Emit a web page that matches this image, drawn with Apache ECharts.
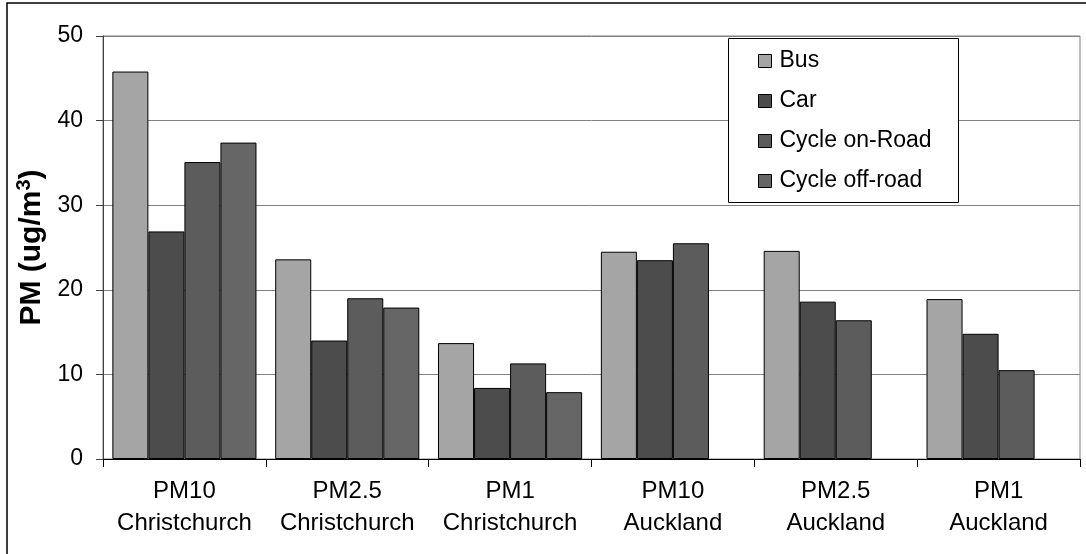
<!DOCTYPE html>
<html>
<head>
<meta charset="utf-8">
<script src="https://cdn.jsdelivr.net/npm/echarts@6/dist/echarts.min.js"></script>
<style>
html,body{margin:0;padding:0;background:#fff;}
#chart{width:1086px;height:554px;}
</style>
</head>
<body>
<div id="chart"></div>
<script>
var categories = ['PM10\nChristchurch','PM2.5\nChristchurch','PM1\nChristchurch','PM10\nAuckland','PM2.5\nAuckland','PM1\nAuckland'];
var bus = [45.8, 23.6, 13.7, 24.5, 24.6, 18.9];
var car = [26.9, 14.0, 8.4, 23.5, 18.6, 14.8];
var cycleOnRoad = [35.1, 19.0, 11.3, 25.5, 16.4, 10.5];
var cycleOffRoad = [37.4, 17.9, 7.9, null, null, null];
var yTicks = {min: 0, max: 50, interval: 10};

var FONT = '"Liberation Sans", Arial, sans-serif';
var chart = echarts.init(document.getElementById('chart'));

function bar(name, data, color) {
  return {
    name: name, type: 'bar', data: data,
    barGap: '0%', barCategoryGap: '11.5%',
    itemStyle: {color: color, borderColor: '#000', borderWidth: 1},
    emphasis: {disabled: true}
  };
}

chart.setOption({
  animation: false,
  textStyle: {fontFamily: FONT},
  grid: {left: 103, right: 6, top: 36, bottom: 95, show: true, borderColor: '#808080', borderWidth: 1},
  graphic: [
    {type: 'rect', z: -10, shape: {x: 7, y: 3, width: 1200, height: 700}, style: {fill: 'none', stroke: '#000', lineWidth: 1.5}},
    {type: 'rect', z: 5, shape: {x: 728.5, y: 38.5, width: 230, height: 164}, style: {fill: '#fff', stroke: '#000', lineWidth: 1}}
  ],
  legend: {
    orient: 'vertical', left: 727, top: 38, z: 10,
    padding: [10, 10, 10, 31],
    itemGap: 14, itemWidth: 13, itemHeight: 13,
    icon: 'rect',
    itemStyle: {borderColor: '#000', borderWidth: 1},
    textStyle: {fontFamily: FONT, fontSize: 23, lineHeight: 26, color: '#000', padding: [0, 0, 0, 3]},
    selectedMode: false
  },
  xAxis: {
    type: 'category', data: categories,
    axisLine: {lineStyle: {color: '#000', width: 1}},
    axisTick: {show: true, length: 8, interval: 0, lineStyle: {color: '#000'}},
    axisLabel: {fontFamily: FONT, fontSize: 24, color: '#000', lineHeight: 32, margin: 16, interval: 0}
  },
  yAxis: {
    type: 'value', min: yTicks.min, max: yTicks.max, interval: yTicks.interval,
    name: '{a|PM (ug/m}{s|3}{a|)}',
    nameLocation: 'middle', nameRotate: 90, nameGap: 52,
    nameTextStyle: {
      rich: {
        a: {fontFamily: FONT, fontSize: 30, fontWeight: 'bold', color: '#000', lineHeight: 34},
        s: {fontFamily: FONT, fontSize: 20, fontWeight: 'bold', color: '#000', lineHeight: 34, verticalAlign: 'top', padding: [0, 0, 10, 0]}
      }
    },
    axisLine: {show: true, lineStyle: {color: '#404040', width: 1}},
    axisTick: {show: true, length: 7, lineStyle: {color: '#404040'}},
    axisLabel: {fontFamily: FONT, fontSize: 23, color: '#000', margin: 20},
    splitLine: {lineStyle: {color: '#808080', width: 1}}
  },
  series: [
    bar('Bus', bus, '#a5a5a5'),
    bar('Car', car, '#4c4c4c'),
    bar('Cycle on-Road', cycleOnRoad, '#5c5c5c'),
    bar('Cycle off-road', cycleOffRoad, '#666666')
  ]
});
</script>
</body>
</html>
